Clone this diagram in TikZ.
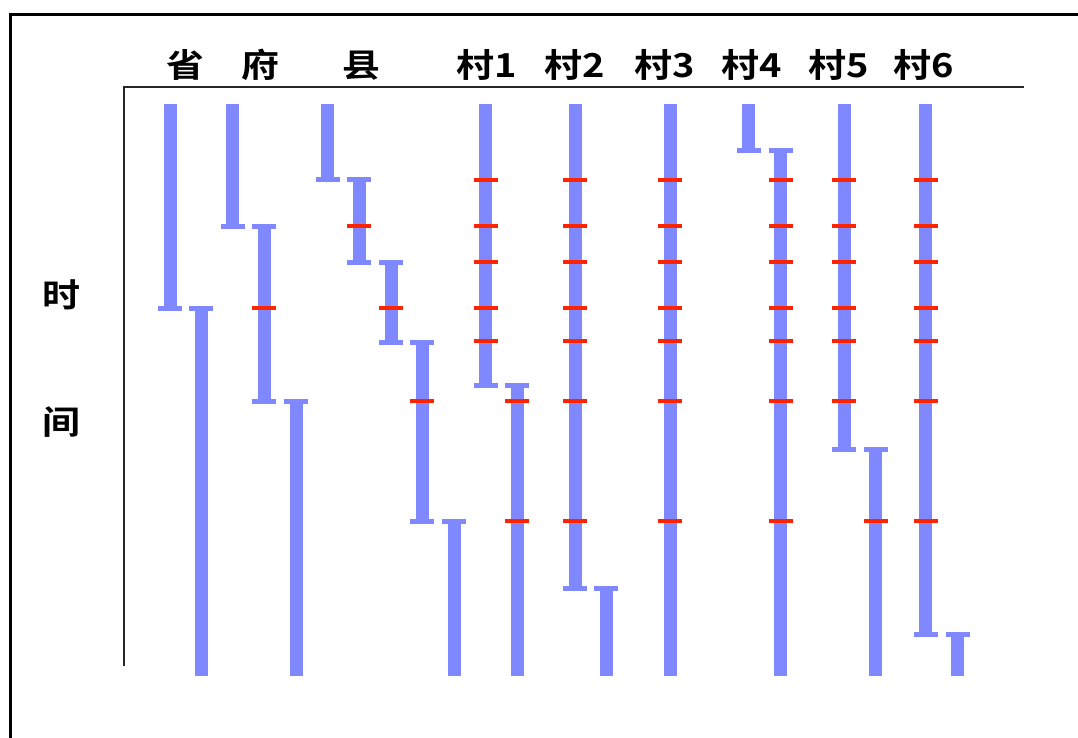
\documentclass[tikz,border=0pt]{standalone}
\usepackage{fontspec}
\newfontfamily\cjk{Noto Sans CJK SC Bold}
\definecolor{barblue}{RGB}{128,136,255}
\definecolor{tickred}{RGB}{255,36,0}
\newcommand{\capmark}[2]{\draw[capline] (#1-12,#2) -- (#1+12,#2);}
\newcommand{\redmark}[2]{\draw[redline] (#1-12,#2) -- (#1+12,#2);}
\begin{document}
\begin{tikzpicture}[x=1pt,y=-1pt,
  barline/.style={draw=barblue,line width=13pt},
  capline/.style={draw=barblue,line width=5pt},
  redline/.style={draw=tickred,line width=4.5pt},
  axisline/.style={draw=black!85,line width=2.6pt},
  frameline/.style={draw=black,line width=3pt},
  head/.style={font=\cjk\fontsize{33}{33}\selectfont,xscale=1.15,inner sep=0pt,anchor=base}]
\useasboundingbox (0,0) rectangle (1078,738);
% outer frame (partly visible)
\coordinate (fa) at (10,738);
\coordinate (fb) at (10,15);
\coordinate (fc) at (1078,15);
\draw[frameline] (fa) -- (fb) -- (fc);
% axes
\coordinate (ax0) at (124,87);
\coordinate (axr) at (1024,87);
\coordinate (axb) at (124,666);
\draw[axisline] (axr) -- (ax0) -- (axb);
% headers
\node[head] (h1) at (185,78) {省};
\node[head] (h2) at (260,78) {府};
\node[head] (h3) at (361,78) {县};
\node[head] (c1) at (487,78) {村1};
\node[head] (c2) at (575,78) {村2};
\node[head] (c3) at (665,78) {村3};
\node[head] (c4) at (752,78) {村4};
\node[head] (c5) at (839,78) {村5};
\node[head] (c6) at (924,78) {村6};
\node[head] (t1) at (61,307) {时};
\node[head] (t2) at (61,434) {间};
% bars
\foreach \x/\a/\b in {170/104/308, 201/308/676, 232.5/104/226, 264/226/401, 296/401/676,
  327.5/104/180, 359/180/262, 391/262/342, 422/342/521, 454/521/676,
  485.5/104/385, 517/385/676, 575/104/588, 606/588/676, 670/104/676,
  748.5/104/151, 780.5/151/676, 844/104/449, 875.5/449/676, 925.5/104/634, 957.5/634/676}
  {\draw[barline] (\x,\a) -- (\x,\b);}
% caps
\foreach \x/\y in {170/308, 201/308, 232.5/226, 264/226, 264/401, 296/401,
  327.5/180, 359/180, 359/262, 391/262, 391/342, 422/342, 422/521, 454/521,
  485.5/385, 517/385, 575/588, 606/588, 748.5/151, 780.5/151, 844/449, 875.5/449,
  925.5/634, 957.5/634}
  {\capmark{\x}{\y}}
% red marks
\redmark{264}{308}
\redmark{359}{226}
\redmark{391}{308}
\redmark{422}{401}
\foreach \y in {180,226,262,308,341} {\redmark{485.5}{\y}}
\foreach \y in {401,521} {\redmark{517}{\y}}
\foreach \x in {575,670,780.5,925.5}
  \foreach \y in {180,226,262,308,341,401,521} {\redmark{\x}{\y}}
\foreach \y in {180,226,262,308,341,401} {\redmark{844}{\y}}
\redmark{875.5}{521}
\end{tikzpicture}
\end{document}
